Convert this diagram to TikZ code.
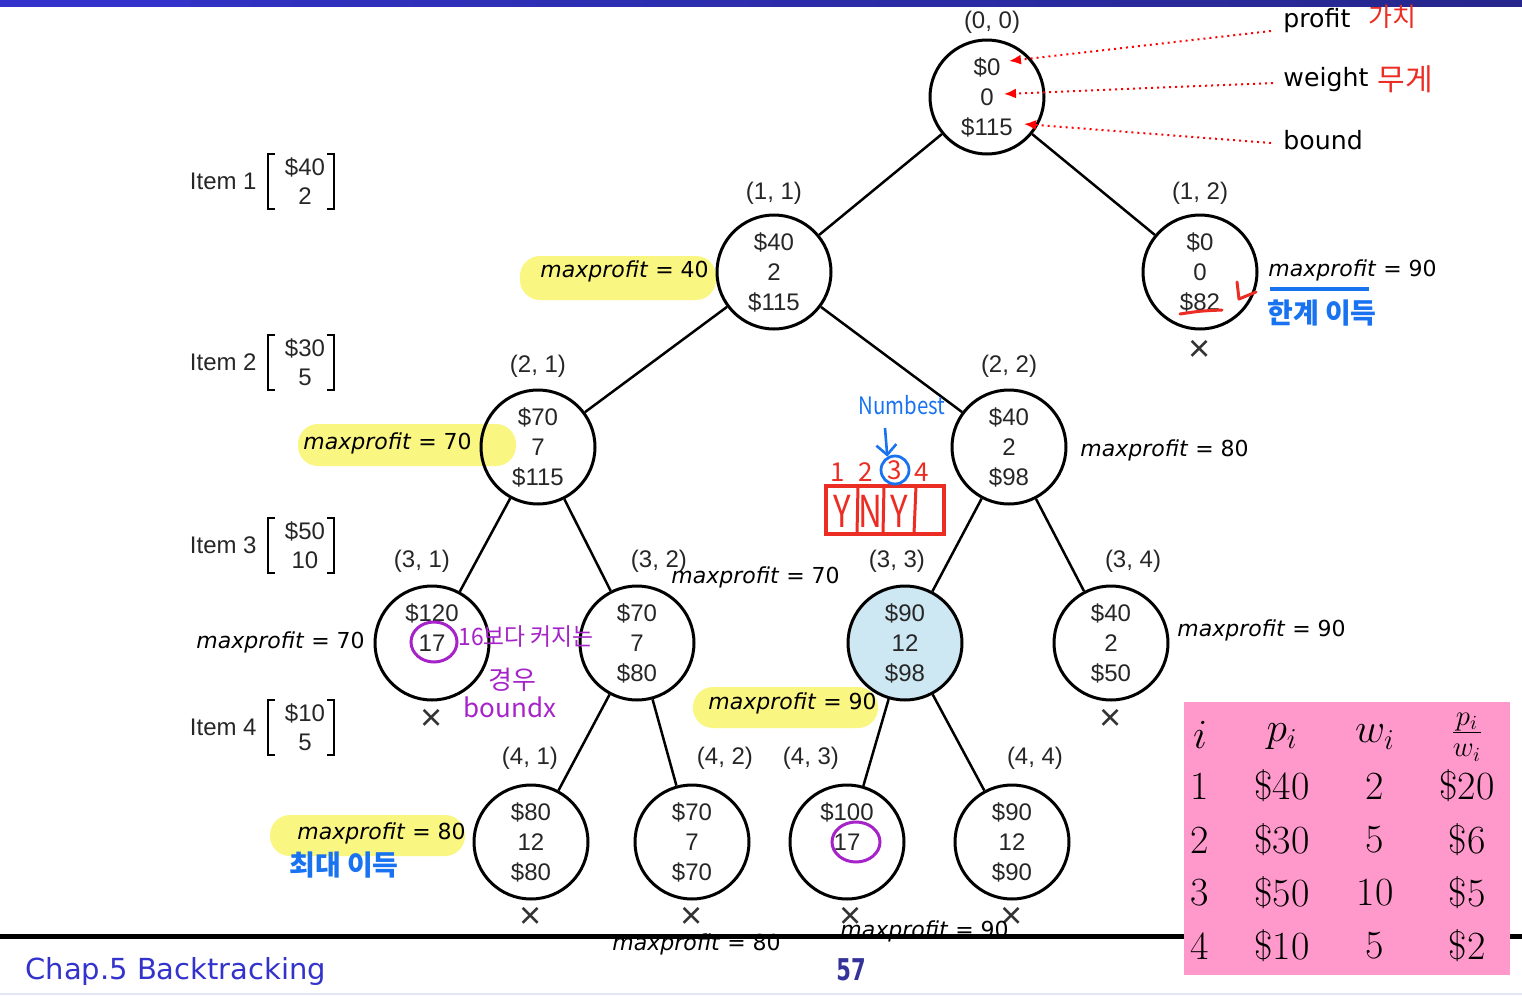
\documentclass[tikz,border=0pt]{standalone}
\usepackage{fontspec}
\setmainfont{Liberation Sans}
\newfontfamily\dejavu{DejaVu Sans}
\newfontfamily\kor{Noto Sans CJK KR}
\newfontfamily\lmr{Latin Modern Roman}
\usetikzlibrary{arrows.meta}
\definecolor{hlyellow}{RGB}{250,246,130}
\definecolor{nodeblue}{RGB}{205,232,243}
\definecolor{hred}{RGB}{235,45,35}
\definecolor{hblue}{RGB}{25,115,240}
\definecolor{hpurple}{RGB}{165,35,200}
\definecolor{tpink}{RGB}{255,153,204}
\definecolor{barblue}{RGB}{51,51,204}
\definecolor{bardark}{RGB}{38,38,140}
\definecolor{pgblue}{RGB}{51,51,153}
\definecolor{footline}{RGB}{225,230,245}
\begin{document}
\begin{tikzpicture}[x=0.5pt,y=-0.5pt,
  tn/.style={circle, draw, line width=1.5pt, minimum size=57pt, inner sep=0pt, align=center,
    font=\fontsize{12}{15}\selectfont, text=black!85},
  edge/.style={line width=1.25pt},
  lab/.style={font=\fontsize{12}{14}\selectfont, text=black!85, inner sep=1pt},
  mp/.style={anchor=west, font=\dejavu\fontsize{11}{13}\selectfont, inner sep=0pt},
  xm/.style={font=\fontsize{19}{19}\selectfont, inner sep=0pt, text=black!80},
  rt/.style={anchor=west, font=\dejavu\fontsize{12.6}{14}\selectfont, inner sep=0pt},
  hw/.style={font=\kor\fontsize{13}{15}\selectfont, inner sep=0pt},
  tb/.style={font=\lmr\fontsize{20}{22}\selectfont, inner sep=0pt},
  reddot/.style={red, dotted, line width=1pt, -{Latex[length=6pt,width=5pt]}},
  hl/.style={fill=hlyellow, rounded corners=10pt}
]
\useasboundingbox (0,0) rectangle (1522,996);
% top bar
\shade[left color=barblue, right color=bardark] (0,0) rectangle (1522,6);
\fill[barblue] (0,0) rectangle (190,7);
% bottom lines
\fill[black] (0,934) rectangle (1522,939);
\draw[footline, line width=1pt] (0,994) -- (1522,994);

% highlights
\fill[hl] (520,256) rectangle (716,300);
\fill[hl] (298,424) rectangle (516,466);
\fill[hl] (693,687) rectangle (878,728);
\fill[hl] (270,815) rectangle (465,856);

% tree nodes
\node[tn] (n00) at (987,97) {\$0\\0\\\$115};
\node[tn] (n11) at (774,272) {\$40\\2\\\$115};
\node[tn] (n12) at (1200,272) {\$0\\0\\\$82};
\node[tn] (n21) at (538,447) {\$70\\7\\\$115};
\node[tn] (n22) at (1009,447) {\$40\\2\\\$98};
\node[tn] (n31) at (432,643) {\$120\\17\\\phantom{0}};
\node[tn] (n32) at (637,643) {\$70\\7\\\$80};
\node[tn, fill=nodeblue] (n33) at (905,643) {\$90\\12\\\$98};
\node[tn] (n34) at (1111,643) {\$40\\2\\\$50};
\node[tn] (n41) at (531,842) {\$80\\12\\\$80};
\node[tn] (n42) at (692,842) {\$70\\7\\\$70};
\node[tn] (n43) at (847,842) {\$100\\17\\\phantom{0}};
\node[tn] (n44) at (1012,842) {\$90\\12\\\$90};

% edges
\draw[edge] (n00) -- (n11);
\draw[edge] (n00) -- (n12);
\draw[edge] (n11) -- (n21);
\draw[edge] (n11) -- (n22);
\draw[edge] (n21) -- (n31);
\draw[edge] (n21) -- (n32);
\draw[edge] (n22) -- (n33);
\draw[edge] (n22) -- (n34);
\draw[edge] (n32) -- (n41);
\draw[edge] (n32) -- (n42);
\draw[edge] (n33) -- (n43);
\draw[edge] (n33) -- (n44);

% level labels
\node[lab] (l00) at (992,22) {(0, 0)};
\node[lab] (l11) at (774,193) {(1, 1)};
\node[lab] (l12) at (1200,193) {(1, 2)};
\node[lab] (l21) at (538,366) {(2, 1)};
\node[lab] (l22) at (1009,366) {(2, 2)};
\node[lab] (l31) at (422,561) {(3, 1)};
\node[lab] (l32) at (659,561) {(3, 2)};
\node[lab] (l33) at (897,561) {(3, 3)};
\node[lab] (l34) at (1133,561) {(3, 4)};
\node[lab] (l41) at (530,758) {(4, 1)};
\node[lab] (l42) at (725,758) {(4, 2)};
\node[lab] (l43) at (811,758) {(4, 3)};
\node[lab] (l44) at (1035,758) {(4, 4)};

% crosses
\node[xm] (x12) at (1200,351) {×};
\node[xm] (x31) at (432,720) {×};
\node[xm] (x34) at (1111,720) {×};
\node[xm] (x41) at (531,918) {×};
\node[xm] (x42) at (692,918) {×};
\node[xm] (x43) at (851,918) {×};
\node[xm] (x44) at (1012,918) {×};

% maxprofit labels
\node[mp] (mp1) at (540,271) {\textit{maxprofit} = 40};
\node[mp] (mp2) at (1268,270) {\textit{maxprofit} = 90};
\node[mp] (mp3) at (303,443) {\textit{maxprofit} = 70};
\node[mp] (mp4) at (1080,450) {\textit{maxprofit} = 80};
\node[mp] (mp5) at (671,577) {\textit{maxprofit} = 70};
\node[mp] (mp6) at (196,642) {\textit{maxprofit} = 70};
\node[mp] (mp7) at (1177,630) {\textit{maxprofit} = 90};
\node[mp] (mp8) at (708,703) {\textit{maxprofit} = 90};
\node[mp] (mp9) at (297,833) {\textit{maxprofit} = 80};
\node[mp] (mp10) at (612,944) {\textit{maxprofit} = 80};
\node[mp] (mp11) at (840,931) {\textit{maxprofit} = 90};

% items
\foreach \n/\y/\p/\w in {1/181/\$40/2, 2/362/\$30/5, 3/545/\$50/10, 4/727/\$10/5}{
  \node[lab, anchor=east] (item\n) at (259,\y) {Item \n};
  \node[lab] (itemp\n) at (305,\y-14) {\p};
  \node[lab] (itemw\n) at (305,\y+15) {\w};
  \draw[line width=1pt] (275,\y-27) -- (268,\y-27) -- (268,\y+28) -- (275,\y+28);
  \draw[line width=1pt] (327,\y-27) -- (334,\y-27) -- (334,\y+28) -- (327,\y+28);
}

% top right legend
\node[rt] (tprofit) at (1283,21) {profit};
\node[rt] (tweight) at (1283,80) {weight};
\node[rt] (tbound) at (1283,140) {bound};
\node[hw, text=hred] (kgachi) at (1392,17) {가치};
\node[hw, text=hred, font=\kor\fontsize{15}{15}\selectfont] (kmuge) at (1405,79) {무게};
\coordinate (ap) at (1009,61);
\coordinate (aw) at (1004,94);
\coordinate (ab) at (1024,124);
\draw[reddot] ([shift={(-12,10)}]tprofit.west) -- (ap);
\draw[reddot] ([shift={(-10,3)}]tweight.west) -- (aw);
\draw[reddot] ([shift={(-12,3)}]tbound.west) -- (ab);

% red marks near (1,2)
\draw[hred, line width=1.5pt, line cap=round] (1180,314) .. controls (1200,311) .. (1222,310);
\draw[hred, line width=1.5pt, line cap=round, line join=round] (1237,282) -- (1239,299) -- (1256,292);
\draw[hblue, line width=1.6pt] (1270,289) -- (1369,289);
\node[hw, text=hblue, font=\kor\bfseries\fontsize{14}{15}\selectfont] (khan) at (1322,313) {한계 이득};

% numbest array
\draw[hred, line width=1.6pt] (826,486) rectangle (944,534);
\draw[hred, line width=1.5pt] (858,486) -- (857,534);
\draw[hred, line width=1.5pt] (884,486) -- (883,534);
\draw[hred, line width=1.5pt] (916,486) -- (914,534);
\node[hw, text=hred, font=\kor\fontsize{22}{22}\selectfont] (cy1) at (842,511) {\scalebox{0.75}[1]{Y}};
\node[hw, text=hred, font=\kor\fontsize{22}{22}\selectfont] (cn2) at (870,511) {\scalebox{0.75}[1]{N}};
\node[hw, text=hred, font=\kor\fontsize{22}{22}\selectfont] (cy3) at (899,511) {\scalebox{0.75}[1]{Y}};
\node[hw, text=hred, font=\kor\fontsize{13}{13}\selectfont] (num1) at (838,472) {1};
\node[hw, text=hred, font=\kor\fontsize{13}{13}\selectfont] (num2) at (866,472) {2};
\node[circle, draw=hblue, line width=1.4pt, minimum size=14pt, inner sep=0pt, text=hred,
  font=\kor\fontsize{13}{13}\selectfont] (num3) at (895,470) {3};
\node[hw, text=hred, font=\kor\fontsize{13}{13}\selectfont] (num4) at (922,472) {4};
\node[hw, text=hblue, font=\kor\fontsize{12}{12}\selectfont] (numbest) at (902,405) {\scalebox{0.85}[1]{Numbest}};
\coordinate (nbs) at (885,428);
\draw[hblue, line width=1.3pt, -{Straight Barb[length=5pt]}] (nbs) -- (num3.120);

% purple annotations
\draw[hpurple, line width=1.5pt] (434,642) ellipse (11.5pt and 10pt);
\draw[hpurple, line width=1.5pt] (856,842) ellipse (12pt and 10pt);
\node[hw, text=hpurple, font=\kor\fontsize{12}{12}\selectfont, anchor=west] (p1) at (458,637) {\scalebox{0.95}[1]{16보다 커지는}};
\node[hw, text=hpurple, font=\kor\fontsize{13}{13}\selectfont] (p2) at (512,680) {경우};
\node[hw, text=hpurple, font=\kor\fontsize{13}{13}\selectfont] (p3) at (510,707) {boundx};

% blue annotation bottom left
\node[hw, text=hblue, font=\kor\bfseries\fontsize{14}{15}\selectfont] (kchoe) at (344,865) {최대 이득};

% table
\fill[tpink] (1184,702) rectangle (1510,975);
\node[tb] (th1) at (1200,735) {$i$};
\node[tb] (th2) at (1282,737) {$p_i$};
\node[tb] (th3) at (1375,737) {$w_i$};
\node[tb] (th4) at (1467,737) {$\frac{p_i}{w_i}$};
\foreach \r/\y/\a/\b/\c in {1/786/\$40/2/\$20, 2/840/\$30/5/\$6, 3/893/\$50/10/\$5, 4/946/\$10/5/\$2}{
  \node[tb] (ti\r) at (1200,\y) {\r};
  \node[tb] (tp\r) at (1282,\y) {\a};
  \node[tb] (tw\r) at (1375,\y) {\b};
  \node[tb] (tr\r) at (1467,\y) {\c};
}

% footer
\node[anchor=west, font=\dejavu\fontsize{14.5}{16}\selectfont, text=barblue, inner sep=0pt] (chap) at (25,971) {Chap.5 Backtracking};
\node[font=\dejavu\bfseries\fontsize{15}{16}\selectfont, text=pgblue, inner sep=0pt] (pg) at (851,970) {\scalebox{0.7}[1]{57}};
\end{tikzpicture}
\end{document}
